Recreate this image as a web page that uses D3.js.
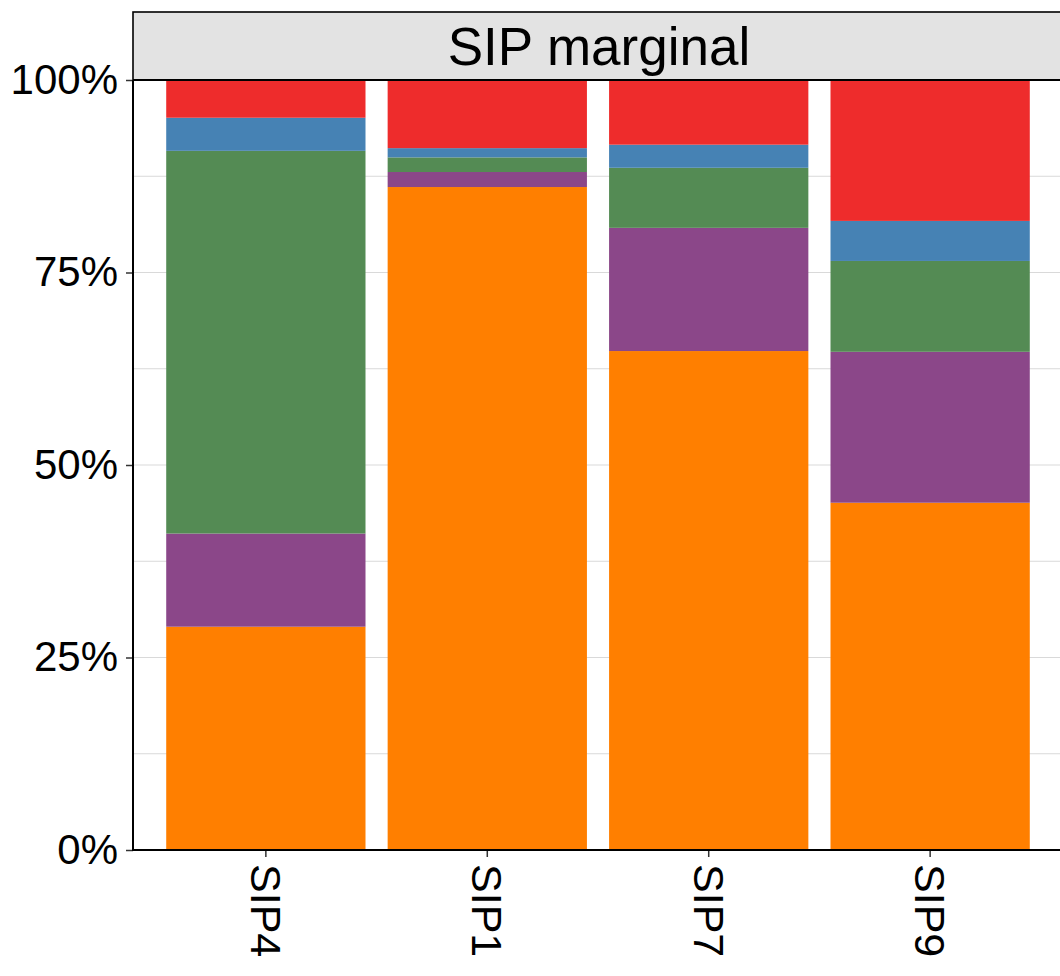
<!DOCTYPE html>
<meta charset="utf-8">
<html>
<head>
    <style>
        body { margin: 0; background: #fff; }
        text { font-family: "Liberation Sans", Arial, sans-serif; fill: #000; }
        .grid line { stroke: #d9d9d9; stroke-width: 1.2; }
    </style>
    <script src="https://d3js.org/d3.v7.min.js"></script>
</head>
<body>

<svg width="1060" height="976"></svg>

<script type="text/javascript">

// sites along the x axis, in plot order
var sites = ["SIP4", "SIP1", "SIP7", "SIP9"];

// stacked shares (%), bottom to top
var groups = ["g1", "g2", "g3", "g4", "g5"];
var g1 = [29.0, 86.1, 64.8, 45.1];
var g2 = [12.1, 1.95, 16.0, 19.6];
var g3 = [49.7, 1.9, 7.8, 11.8];
var g4 = [4.3, 1.2, 3.0, 5.2];
var g5 = [4.9, 8.85, 8.4, 18.3];

var colours = ["#ff7f00", "#8b4789", "#548b54", "#4682b4", "#ee2c2c"];

var yTicks = [0, 25, 50, 75, 100];
var yMinor = [12.5, 37.5, 62.5, 87.5];
var title = "SIP marginal";

var svg = d3.select("svg"),
    pLeft = 133, pRight = 1063, pTop = 80, pBottom = 850, stripTop = 12;

var data = sites.map(function(s, i) {
  return {site: s, g1: g1[i], g2: g2[i], g3: g3[i], g4: g4[i], g5: g5[i]};
});

var stack = d3.stack().keys(groups)(data);

var x = d3.scaleBand()
    .domain(sites)
    .range([pLeft, pRight])
    .paddingInner(0.1)
    .paddingOuter(0.15);

var y = d3.scaleLinear()
    .domain([0, 100])
    .range([pBottom, pTop]);

var z = d3.scaleOrdinal().domain(groups).range(colours);

// grid lines, major and minor
svg.append("g")
    .attr("class", "grid")
    .selectAll("line")
    .data(yTicks.concat(yMinor))
    .enter().append("line")
    .attr("x1", pLeft).attr("x2", pRight)
    .attr("y1", function(d) { return y(d); })
    .attr("y2", function(d) { return y(d); });

svg.append("g")
    .selectAll("g")
    .data(stack)
    .enter().append("g")
    .attr("fill", function(d) { return z(d.key); })
    .selectAll("rect")
    .data(function(d) { return d; })
    .enter().append("rect")
    .attr("x", function(d) { return x(d.data.site); })
    .attr("width", x.bandwidth())
    .attr("y", function(d) { return y(d[1]); })
    .attr("height", function(d) { return y(d[0]) - y(d[1]); });

// strip on top
svg.append("rect")
    .attr("x", pLeft)
    .attr("y", stripTop)
    .attr("width", pRight - pLeft + 4)
    .attr("height", pTop - stripTop)
    .attr("fill", "#e3e3e3")
    .attr("stroke", "#000")
    .attr("stroke-width", 1.6);

svg.append("line")
    .attr("x1", pLeft).attr("x2", pRight)
    .attr("y1", pTop).attr("y2", pTop)
    .attr("stroke", "#000")
    .attr("stroke-width", 2);

svg.append("text")
    .attr("x", (pLeft + pRight) / 2 + 1)
    .attr("y", (stripTop + pTop) / 2)
    .attr("dy", "0.35em")
    .attr("text-anchor", "middle")
    .attr("font-size", "53px")
    .text(title);

// axes
var yAxis = svg.append("g")
    .attr("transform", "translate(" + pLeft + ",0)")
    .call(d3.axisLeft(y)
      .tickValues(yTicks)
      .tickSize(7)
      .tickPadding(8)
      .tickFormat(function(d) { return d + "%"; }));

yAxis.select(".domain").remove();
yAxis.selectAll(".tick line").attr("stroke", "#333").attr("stroke-width", 1.5);
yAxis.selectAll("text").attr("font-size", "42px").attr("fill", "#000")
    .attr("font-family", "Liberation Sans, Arial, sans-serif");

var xAxis = svg.append("g")
    .attr("transform", "translate(0," + pBottom + ")")
    .call(d3.axisBottom(x).tickSize(7));

xAxis.select(".domain").remove();
xAxis.selectAll(".tick line").attr("stroke", "#333").attr("stroke-width", 1.5);
xAxis.selectAll("text")
    .attr("font-size", "43px")
    .attr("fill", "#000")
    .attr("font-family", "Liberation Sans, Arial, sans-serif")
    .attr("transform", "rotate(90)")
    .attr("text-anchor", "start")
    .attr("x", 14)
    .attr("y", 0)
    .attr("dy", "0.35em");

svg.append("line")
    .attr("x1", pLeft).attr("x2", pLeft)
    .attr("y1", pTop).attr("y2", pBottom + 1)
    .attr("stroke", "#000").attr("stroke-width", 2);

svg.append("line")
    .attr("x1", pLeft - 1).attr("x2", pRight)
    .attr("y1", pBottom).attr("y2", pBottom)
    .attr("stroke", "#000").attr("stroke-width", 2);

</script>
</body>
</html>
